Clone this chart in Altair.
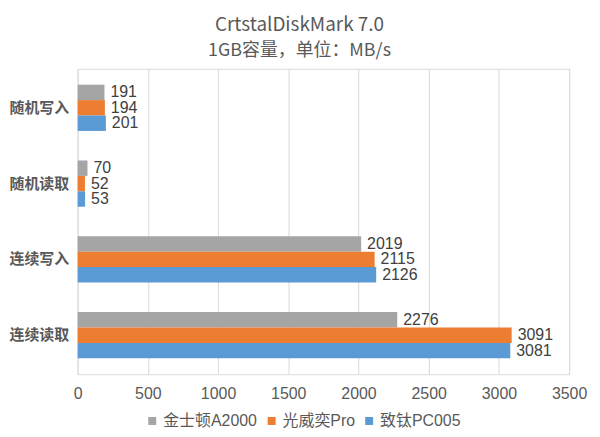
import altair as alt
import pandas as pd

categories = ["随机写入", "随机读取", "连续写入", "连续读取"]
series = ["金士顿A2000", "光威奕Pro", "致钛PC005"]
kingston = [191, 70, 2019, 2276]
gloway = [194, 52, 2115, 3091]
zhitai = [201, 53, 2126, 3081]
colors = ["#A5A5A5", "#ED7D31", "#5B9BD5"]
x_ticks = [0, 500, 1000, 1500, 2000, 2500, 3000, 3500]

rows = []
for s, vals in zip(series, [kingston, gloway, zhitai]):
    for c, v in zip(categories, vals):
        rows.append({"cat": c, "series": s, "value": v})
df = pd.DataFrame(rows)

FONT = "Liberation Sans, Noto Sans CJK SC, sans-serif"
CJK = "Noto Sans CJK SC, sans-serif"
TXT = "#595959"

base = alt.Chart(df).encode(
    y=alt.Y("cat:N", sort=categories,
            scale=alt.Scale(paddingInner=0.39, paddingOuter=0.21),
            axis=alt.Axis(title=None, ticks=False, domain=False, labelPadding=9,
                          labelFontSize=15, labelFont=CJK, labelFontWeight="bold",
                          labelColor=TXT)),
    yOffset=alt.YOffset("series:N", sort=series, scale=alt.Scale(paddingInner=0, paddingOuter=0)),
)

bars = base.mark_bar().encode(
    x=alt.X("value:Q", scale=alt.Scale(domain=[0, 3500], nice=False),
            axis=alt.Axis(title=None, values=x_ticks, format="d", grid=True, gridColor="#D9D9D9",
                          domain=False, ticks=False, labelPadding=11, labelFontSize=16,
                          labelFlush=False, labelFont=FONT, labelColor=TXT)),
    color=alt.Color("series:N", sort=series,
                    scale=alt.Scale(domain=series, range=colors),
                    legend=alt.Legend(title=None, orient="none", direction="horizontal",
                                      legendX=67, legendY=346, symbolType="square",
                                      symbolSize=64, symbolStrokeWidth=0,
                                      labelFontSize=16, labelFont=FONT, labelColor=TXT,
                                      labelOffset=3, columnPadding=6)),
)

text = base.mark_text(align="left", dx=6, fontSize=16, font=FONT, color="#404040").encode(
    x=alt.X("value:Q"),
    text=alt.Text("value:Q"),
)

chart = (bars + text).properties(
    width=494, height=307,
    padding={"left": 0, "top": 7, "right": 5, "bottom": 5},
    title=alt.TitleParams(
        "CrtstalDiskMark 7.0",
        subtitle="1GB容量，单位：MB/s",
        anchor="middle", dx=-24, fontSize=19, font=CJK, fontWeight="normal", color=TXT,
        subtitleFontSize=18, subtitleFont=CJK, subtitleColor=TXT, subtitlePadding=7,
        offset=9,
    ),
).configure_view(stroke=None).configure(background="white")

chart.save("out.html", embed_options={"renderer": "svg", "actions": False})
